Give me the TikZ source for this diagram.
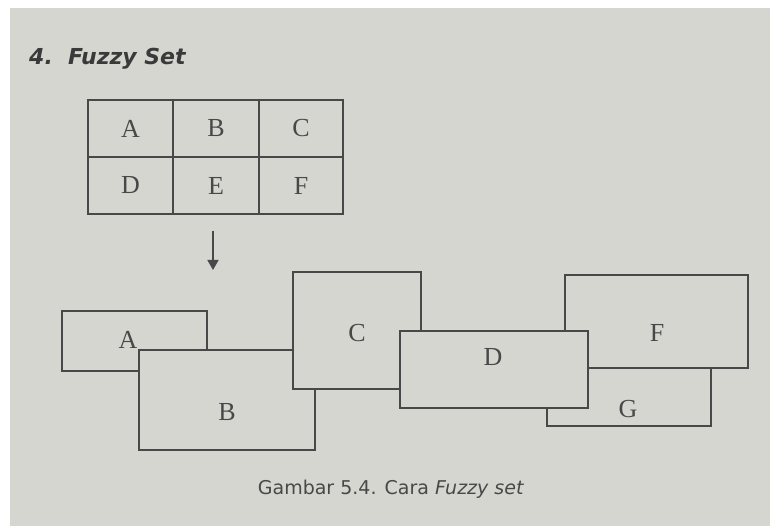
\documentclass[tikz,border=0pt]{standalone}
\usepackage{fontspec}
\setmainfont{Liberation Serif}
\newfontfamily\capfont{DejaVu Sans}
\usetikzlibrary{arrows.meta}
\definecolor{paper}{RGB}{214,214,209}
\definecolor{ink}{RGB}{72,72,72}
\tikzset{
  cell/.style={draw=ink, line width=1.4pt, rectangle, inner sep=0pt, outer sep=0pt,
    minimum width=#1, minimum height=57pt, text=ink, font=\fontsize{26}{26}\selectfont},
  setbox/.style={draw=ink, fill=paper, line width=1.4pt, rectangle, inner sep=0pt, outer sep=0pt},
  setlbl/.style={text=ink, inner sep=0pt, font=\fontsize{26}{26}\selectfont},
}
\begin{document}
\begin{tikzpicture}[x=1pt,y=-1pt]
\useasboundingbox (0,0) rectangle (770,526);
\fill[white] (0,0) rectangle (770,526);
\fill[paper] (10,8) rectangle (770,526);
% title
\node[anchor=base west, inner sep=0pt, text=ink!80!black, font=\capfont\bfseries\itshape\fontsize{22}{22}\selectfont] (title) at (29,65) {4.\ \ Fuzzy Set};
% table
\node[cell=85pt] (tA) at (130.5,128.5) {A};
\node[cell=86pt] (tB) at (216,128.5) {B};
\node[cell=84pt] (tC) at (301,128.5) {C};
\node[cell=85pt] (tD) at (130.5,185.5) {D};
\node[cell=86pt] (tE) at (216,185.5) {E};
\node[cell=84pt] (tF) at (301,185.5) {F};
% arrow
\coordinate (arS) at (213,231);
\coordinate (arE) at (213,270);
\draw[ink, line width=1.4pt, -{Triangle[length=10pt,width=11pt]}] (arS) -- (arE);
% overlapping sets (back to front)
\node[setbox, minimum width=145pt, minimum height=60pt] (A) at (134.5,341) {};
\node[setlbl] (lA) at (128,340) {A};
\node[setbox, minimum width=176pt, minimum height=100pt] (B) at (227,400) {};
\node[setlbl] (lB) at (227,412) {B};
\node[setbox, minimum width=128pt, minimum height=117pt] (C) at (357,330.5) {};
\node[setlbl] (lC) at (357,333) {C};
\node[setbox, minimum width=164pt, minimum height=80pt] (G) at (629,386) {};
\node[setlbl] (lG) at (628,409) {G};
\node[setbox, minimum width=183pt, minimum height=93pt] (F) at (656.5,321.5) {};
\node[setlbl] (lF) at (657,333) {F};
\node[setbox, minimum width=188pt, minimum height=77pt] (D) at (494,369.5) {};
\node[setlbl] (lD) at (493,357) {D};
% caption
\node[inner sep=0pt, text=ink, font=\capfont\fontsize{19}{19}\selectfont] (cap) at (391,489) {Gambar 5.4. Cara \textit{Fuzzy set}};
\end{tikzpicture}
\end{document}
